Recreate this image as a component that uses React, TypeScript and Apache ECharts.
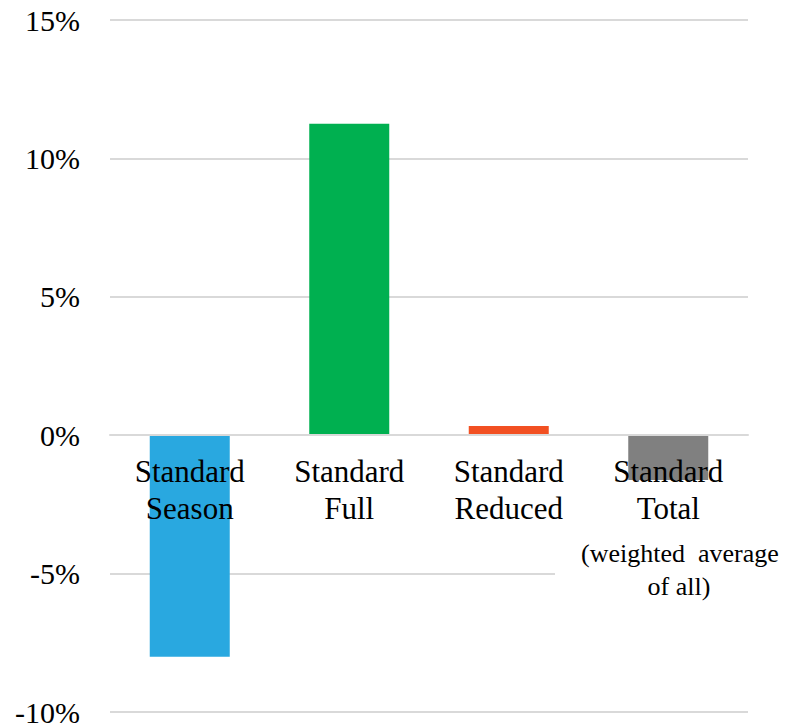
import React, { useEffect, useRef } from "react";
import * as echarts from "echarts";

const categories = ["Standard\nSeason", "Standard\nFull", "Standard\nReduced", "Standard\nTotal"];
const values = [-8.0, 11.25, 0.33, -1.62];
const barColors = ["#29a8e0", "#00b050", "#f25022", "#808080"];
const subtitleLines = ["(weighted  average", "of all)"];
const yMin = -10;
const yMax = 15;
const yStep = 5;

export default function App() {
  const ref = useRef<HTMLDivElement>(null);
  useEffect(() => {
    if (!ref.current) return;
    const chart = echarts.init(ref.current, null, { renderer: "svg" });
    const serif = "Liberation Serif";
    chart.setOption({
      animation: false,
      backgroundColor: "#ffffff",
      grid: { left: 110, right: 39, top: 20, bottom: 13, containLabel: false, outerBoundsMode: "none" },
      xAxis: {
        type: "category",
        data: categories,
        z: 10,
        offset: -277,
        axisLine: { show: true, onZero: false, lineStyle: { color: "#d9d9d9", width: 2 } },
        axisTick: { show: false },
        axisLabel: {
          color: "#000",
          fontFamily: serif,
          fontSize: 31,
          lineHeight: 37,
          margin: 18,
          interval: 0,
        },
      },
      yAxis: {
        type: "value",
        min: yMin,
        max: yMax,
        interval: yStep,
        axisLine: { show: false },
        axisTick: { show: false },
        splitLine: { lineStyle: { color: "#d9d9d9", width: 2 } },
        axisLabel: {
          color: "#000",
          fontFamily: serif,
          fontSize: 30,
          margin: 30,
          formatter: (v: number) => `${v}%`,
        },
      },
      series: [
        {
          type: "bar",
          barWidth: 80,
          data: values.map((v, i) => ({ value: v, itemStyle: { color: barColors[i] } })),
        },
      ],
      graphic: [
        {
          type: "rect",
          z: 5,
          shape: { x: 555, y: 536, width: 200, height: 70 },
          style: { fill: "#ffffff" },
        },
        {
          type: "text",
          z: 20,
          x: 581,
          y: 553,
          style: {
            text: subtitleLines[0],
            fontFamily: serif,
            fontSize: 26,
            fill: "#000",
            align: "left",
            verticalAlign: "middle",
          },
        },
        {
          type: "text",
          z: 20,
          x: 679,
          y: 586,
          style: {
            text: subtitleLines[1],
            fontFamily: serif,
            fontSize: 26,
            fill: "#000",
            align: "center",
            verticalAlign: "middle",
          },
        },
      ],
    });
    return () => chart.dispose();
  }, []);
  return (
    <div
      ref={ref}
      style={{ position: "absolute", left: 0, top: 0, width: 787, height: 725 }}
    />
  );
}
